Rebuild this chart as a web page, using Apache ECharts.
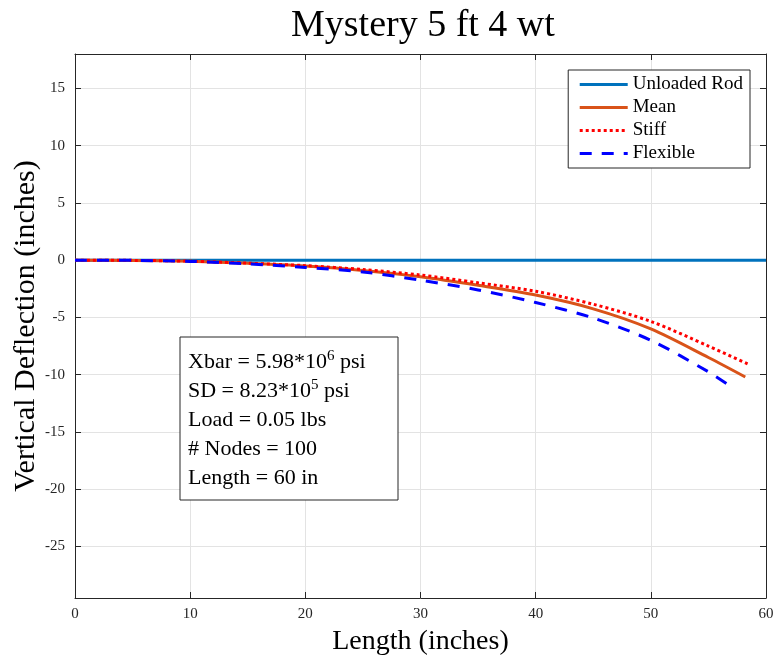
<!DOCTYPE html>
<html>
<head>
<meta charset="utf-8">
<script src="https://cdn.jsdelivr.net/npm/echarts@6/dist/echarts.min.js"></script>
<style>
  html, body { margin: 0; padding: 0; background: #fff; }
  #echart { width: 775px; height: 660px; }
</style>
</head>
<body>
<div id="echart"></div>
<script>
// data
var unloadedX = [0, 60];
var unloadedY = [0, 0];
var meanX = [0, 5, 10, 15, 20, 25, 30, 35, 40, 45, 50, 55, 58.2];
var meanY = [0, -0.02, -0.1, -0.28, -0.52, -0.9, -1.45, -2.2, -3.05, -4.25, -6.0, -8.5, -10.2];
var stiffX = [0, 5, 10, 15, 20, 25, 30, 35, 40, 45, 50, 55, 58.4];
var stiffY = [0, -0.02, -0.09, -0.26, -0.48, -0.82, -1.3, -1.98, -2.72, -3.85, -5.35, -7.5, -9.05];
var flexX = [0, 5, 10, 15, 20, 25, 30, 35, 40, 45, 50, 55, 56.9];
var flexY = [0, -0.02, -0.11, -0.32, -0.64, -1.03, -1.75, -2.6, -3.7, -5.05, -7.0, -9.75, -11.0];
var yTicks = [-25, -20, -15, -10, -5, 0, 5, 10, 15];
var seriesNames = ['Unloaded Rod', 'Mean', 'Stiff', 'Flexible'];
var infoLines = ['Xbar = 5.98*10{sup|6} psi', 'SD = 8.23*10{sup|5} psi', 'Load = 0.05 lbs', '# Nodes = 100', 'Length = 60 in'];

function pairs(xs, ys) {
    var out = [];
    for (var i = 0; i < xs.length; i++) {
        out.push([xs[i], ys[i]]);
    }
    return out;
}

var serif = '"Liberation Serif", "DejaVu Serif", serif';
var axisColor = '#262626';
var gridColor = '#e3e3e3';

var dom = document.getElementById("echart");
var myChart = echarts.init(dom);

option = {
    animation: false,
    backgroundColor: '#fff',
    title: {
        text: 'Mystery 5 ft 4 wt',
        left: 286,
        top: 2,
        textStyle: { fontFamily: serif, fontSize: 38, fontWeight: 'normal', color: '#000' }
    },
    legend: {
        data: seriesNames,
        orient: 'vertical',
        right: 25,
        top: 70,
        padding: [5, 7, 5, 10],
        itemGap: 4,
        itemWidth: 48,
        itemHeight: 16,
        backgroundColor: '#fff',
        borderColor: axisColor,
        borderWidth: 1,
        borderRadius: 0,
        itemStyle: { opacity: 0 },
        lineStyle: { width: 3 },
        textStyle: { fontFamily: serif, fontSize: 19, lineHeight: 19, color: '#000' }
    },
    grid: { left: 75, right: 9, top: 54, bottom: 62, outerBoundsMode: 'none' },
    xAxis: [
        {
            type: 'value', min: 0, max: 60, interval: 10,
            name: 'Length (inches)', nameLocation: 'middle', nameGap: 30,
            nameTextStyle: { fontFamily: serif, fontSize: 28, color: '#000' },
            axisLine: { onZero: false, lineStyle: { color: axisColor } },
            axisTick: { inside: true, length: 6, lineStyle: { color: axisColor } },
            axisLabel: { fontFamily: serif, fontSize: 15, color: axisColor, margin: 9 },
            splitLine: { show: true, lineStyle: { color: gridColor } }
        },
        {
            type: 'value', min: 0, max: 60, interval: 10, position: 'top',
            axisLine: { onZero: false, lineStyle: { color: axisColor } },
            axisTick: { inside: true, length: 6, lineStyle: { color: axisColor } },
            axisLabel: { show: false },
            splitLine: { show: false }
        }
    ],
    yAxis: [
        {
            type: 'value', min: -29.5, max: 18,
            name: 'Vertical Deflection (inches)', nameLocation: 'middle', nameGap: 34,
            nameMoveOverlap: false,
            nameTextStyle: { fontFamily: serif, fontSize: 30, color: '#000' },
            axisLine: { show: true, onZero: false, lineStyle: { color: axisColor } },
            axisTick: { show: true, inside: true, length: 6, customValues: yTicks, lineStyle: { color: axisColor } },
            axisLabel: { fontFamily: serif, fontSize: 15, color: axisColor, margin: 10, customValues: yTicks },
            splitLine: { show: true, lineStyle: { color: gridColor } }
        },
        {
            type: 'value', min: -29.5, max: 18, position: 'right',
            axisLine: { show: true, onZero: false, lineStyle: { color: axisColor } },
            axisTick: { show: true, inside: true, length: 6, customValues: yTicks, lineStyle: { color: axisColor } },
            axisLabel: { show: false },
            splitLine: { show: false }
        }
    ],
    series: [
        {
            name: seriesNames[0], type: 'line', symbol: 'none',
            data: pairs(unloadedX, unloadedY),
            itemStyle: { color: '#0072BD' },
            lineStyle: { color: '#0072BD', width: 3 }
        },
        {
            name: seriesNames[1], type: 'line', symbol: 'none', smooth: 0.3,
            data: pairs(meanX, meanY),
            itemStyle: { color: '#D95319' },
            lineStyle: { color: '#D95319', width: 3 }
        },
        {
            name: seriesNames[2], type: 'line', symbol: 'none', smooth: 0.3,
            data: pairs(stiffX, stiffY),
            itemStyle: { color: '#FF0000' },
            lineStyle: { color: '#FF0000', width: 3, type: [3, 3] }
        },
        {
            name: seriesNames[3], type: 'line', symbol: 'none', smooth: 0.3,
            data: pairs(flexX, flexY),
            itemStyle: { color: '#0000FF' },
            lineStyle: { color: '#0000FF', width: 3, type: [12, 10] }
        }
    ],
    graphic: [
        {
            type: 'rect', z: 100,
            shape: { x: 180, y: 337, width: 218, height: 163 },
            style: { fill: '#fff', stroke: axisColor, lineWidth: 1 }
        },
        {
            type: 'text', z: 101, left: 188, top: 348,
            style: {
                text: infoLines.join('\n'),
                fontFamily: serif, fontSize: 22, fill: '#000', lineHeight: 29,
                rich: {
                    sup: { fontFamily: serif, fontSize: 15, padding: [0, 0, 13, 0], fill: '#000' }
                }
            }
        }
    ]
};

myChart.setOption(option);
</script>
</body>
</html>
